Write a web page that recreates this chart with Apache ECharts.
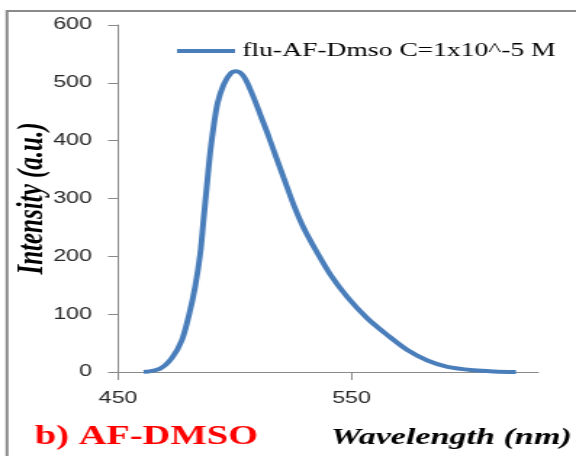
<!DOCTYPE html>
<html>
<head>
<meta charset="utf-8">
<script src="https://cdn.jsdelivr.net/npm/echarts@6/dist/echarts.min.js"></script>
<style>
  html, body { margin: 0; padding: 0; background: #fff; overflow: hidden; }
  /* the reference picture is stretched sideways, so the chart is drawn narrow and widened */
  #main { width: 397px; height: 456px; transform: scaleX(1.4509); transform-origin: 0 0; }
</style>
</head>
<body>
<div id="main"></div>
<script>
var wavelength = [461, 468, 473, 477.3, 480.2, 483, 485.2, 486.6, 488, 489.4, 490.9, 492.6, 495.2, 498.1, 500.6,
  503.8, 507.3, 510.9, 514.5, 521, 525.3, 529.5, 535.2, 541, 548.1, 556.7, 565.3, 573.9, 582.5, 591.1, 602.5, 611.1, 620.4];
var intensity = [0, 6, 24, 55, 96, 148, 205, 263, 321, 378, 424, 465, 497, 516, 520,
  511, 482, 445, 407, 335, 288, 249, 207, 168, 130, 93, 64, 38, 20, 9, 3, 1, 0];
var seriesName = 'flu-AF-Dmso C=1x10^-5 M';
var yTicks = [0, 600, 100];   // min, max, step
var xTicks = [450, 630, 100];

var chart = echarts.init(document.getElementById('main'));

var points = wavelength.map(function (w, i) { return [w, intensity[i]]; });
var axisGray = '#8a8a8a';
var serif = '"Liberation Serif", "Times New Roman", serif';
var labelFont = { color: '#262626', fontSize: 16, fontFamily: '"Liberation Sans", Arial, sans-serif' };

var option = {
  animation: false,
  grid: { left: 81.4, right: 26, top: 25, bottom: 84, outerBoundsMode: 'none' },
  legend: {
    data: [seriesName],
    left: 120,
    top: 41.5,
    padding: 0,
    itemWidth: 40,
    itemHeight: 14,
    itemStyle: { opacity: 0 },
    lineStyle: { width: 4 },
    textStyle: { fontFamily: serif, fontSize: 19, color: '#000' }
  },
  xAxis: {
    type: 'value',
    min: xTicks[0],
    max: xTicks[1],
    interval: xTicks[2],
    axisLine: { lineStyle: { color: axisGray, width: 1 } },
    axisTick: { length: 8, lineStyle: { color: axisGray } },
    axisLabel: Object.assign({ margin: 19, showMaxLabel: false }, labelFont),
    splitLine: { show: false }
  },
  yAxis: {
    type: 'value',
    min: yTicks[0],
    max: yTicks[1],
    interval: yTicks[2],
    name: 'Intensity (a.u.)',
    nameLocation: 'middle',
    nameGap: 46,
    nameMoveOverlap: false,
    nameTextStyle: { fontFamily: serif, fontStyle: 'italic', fontWeight: 'bold', fontSize: 25, color: '#000' },
    axisLine: { show: true, lineStyle: { color: axisGray, width: 1 } },
    axisTick: { show: true, length: 7, lineStyle: { color: axisGray } },
    axisLabel: Object.assign({ margin: 18 }, labelFont),
    splitLine: { show: false }
  },
  series: [{
    name: seriesName,
    type: 'line',
    data: points,
    symbol: 'none',
    smooth: 0.3,
    lineStyle: { color: '#4a7ebb', width: 4 },
    itemStyle: { color: '#4a7ebb' }
  }],
  graphic: [
    {
      type: 'rect',
      shape: { x: 4.8, y: 11, width: 500, height: 500 },
      style: { fill: 'none', stroke: '#8a8a8a', lineWidth: 2 },
      silent: true
    },
    {
      type: 'text',
      left: 228,
      top: 426,
      style: { text: 'Wavelength (nm)', fontFamily: serif, fontStyle: 'italic', fontWeight: 'bold', fontSize: 23.5, fill: '#000' }
    },
    {
      type: 'text',
      left: 24,
      top: 424,
      style: { text: 'b) AF-DMSO', fontFamily: serif, fontWeight: 'bold', fontSize: 26.5, fill: '#ff0000' }
    }
  ]
};

chart.setOption(option);
</script>
</body>
</html>
